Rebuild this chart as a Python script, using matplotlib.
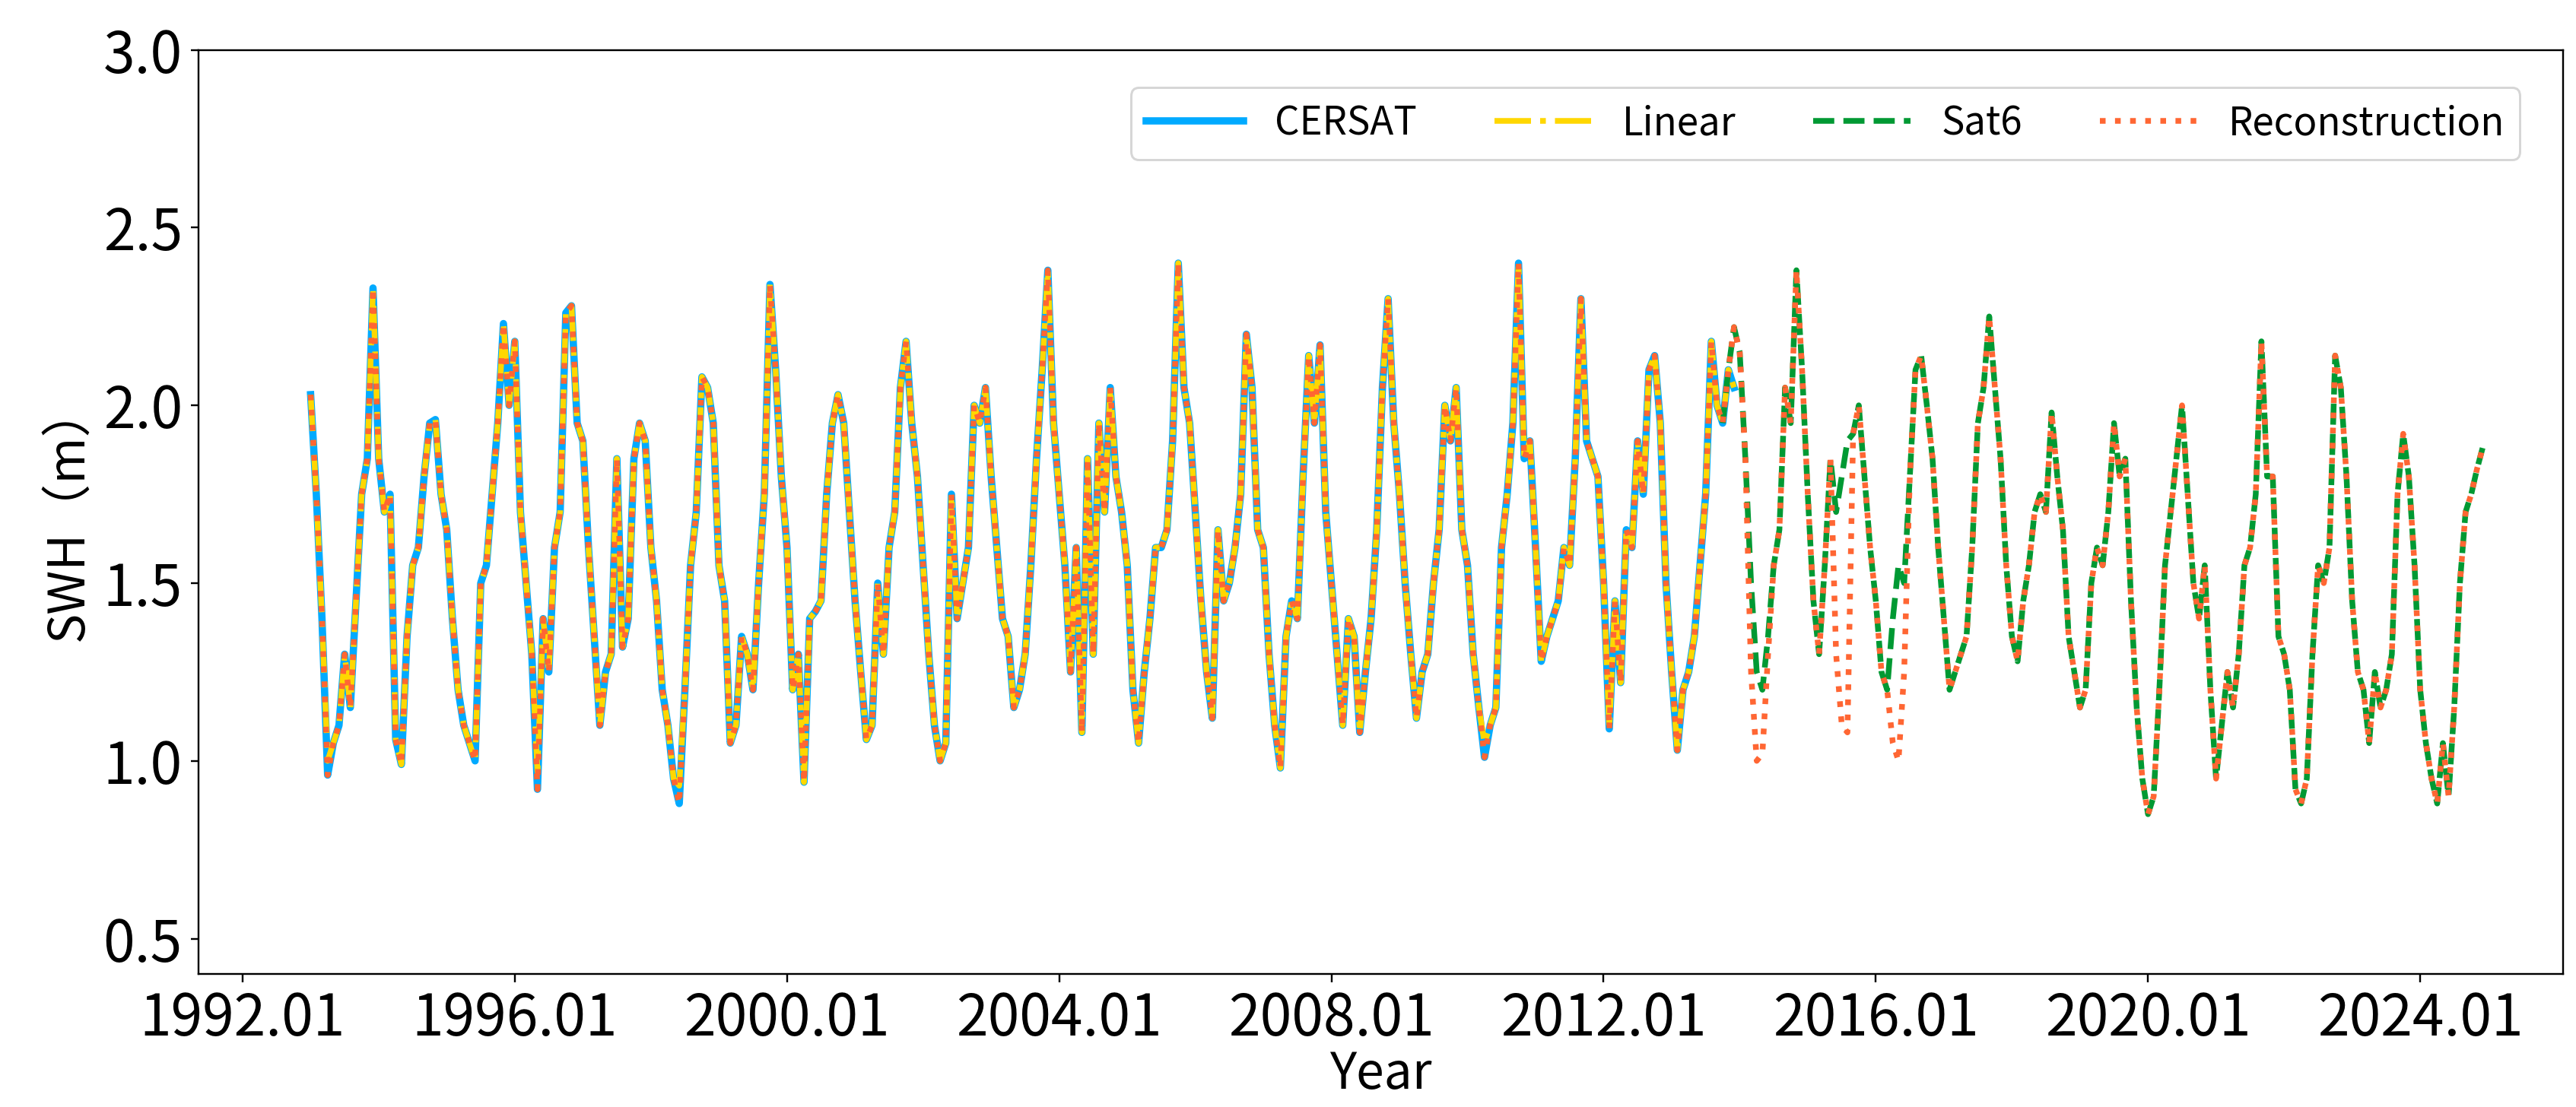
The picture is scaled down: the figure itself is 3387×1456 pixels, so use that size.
import numpy as np
import matplotlib
matplotlib.use("Agg")
import matplotlib.pyplot as plt

plt.rcParams['font.family'] = ['Noto Sans CJK SC', 'DejaVu Sans']

# CERSAT monthly SWH, 1993.01 - 2013.12
cersat = [
    2.03, 1.75, 1.40, 0.96, 1.05, 1.10, 1.30, 1.15, 1.45, 1.75, 1.85, 2.33,
    1.85, 1.70, 1.75, 1.06, 0.99, 1.35, 1.55, 1.60, 1.80, 1.95, 1.96, 1.75,
    1.65, 1.40, 1.20, 1.10, 1.05, 1.00, 1.50, 1.55, 1.75, 1.95, 2.23, 2.00,
    2.18, 1.70, 1.50, 1.30, 0.92, 1.40, 1.25, 1.60, 1.70, 2.26, 2.28, 1.95,
    1.90, 1.60, 1.35, 1.10, 1.25, 1.30, 1.85, 1.32, 1.40, 1.85, 1.95, 1.90,
    1.60, 1.45, 1.20, 1.10, 0.95, 0.88, 1.20, 1.55, 1.70, 2.08, 2.05, 1.95,
    1.55, 1.45, 1.05, 1.10, 1.35, 1.30, 1.20, 1.50, 1.75, 2.34, 2.10, 1.80,
    1.60, 1.20, 1.30, 0.94, 1.40, 1.42, 1.45, 1.75, 1.95, 2.03, 1.95, 1.70,
    1.45, 1.25, 1.06, 1.10, 1.50, 1.30, 1.60, 1.70, 2.05, 2.18, 1.95, 1.80,
    1.55, 1.30, 1.10, 1.00, 1.05, 1.75, 1.40, 1.50, 1.60, 2.00, 1.95, 2.05,
    1.80, 1.60, 1.40, 1.35, 1.15, 1.20, 1.30, 1.55, 1.85, 2.10, 2.38, 1.95,
    1.75, 1.55, 1.25, 1.60, 1.08, 1.85, 1.30, 1.95, 1.70, 2.05, 1.80, 1.70,
    1.55, 1.20, 1.05, 1.25, 1.40, 1.60, 1.60, 1.65, 1.90, 2.40, 2.05, 1.95,
    1.70, 1.45, 1.25, 1.12, 1.65, 1.45, 1.50, 1.60, 1.75, 2.20, 2.05, 1.65,
    1.60, 1.30, 1.10, 0.98, 1.35, 1.45, 1.40, 1.80, 2.14, 1.95, 2.17, 1.70,
    1.50, 1.30, 1.10, 1.40, 1.35, 1.08, 1.25, 1.40, 1.65, 2.05, 2.30, 1.95,
    1.75, 1.50, 1.30, 1.12, 1.25, 1.30, 1.50, 1.65, 2.00, 1.90, 2.05, 1.65,
    1.55, 1.30, 1.15, 1.01, 1.10, 1.15, 1.60, 1.75, 1.95, 2.40, 1.85, 1.90,
    1.60, 1.28, 1.35, 1.40, 1.45, 1.60, 1.55, 1.85, 2.30, 1.90, 1.85, 1.80,
    1.50, 1.09, 1.45, 1.22, 1.65, 1.60, 1.90, 1.75, 2.10, 2.14, 1.95, 1.50,
    1.25, 1.03, 1.20, 1.25, 1.35, 1.55, 1.75, 2.18, 2.00, 1.95, 2.10, 2.05,
]
# Linear fill: nearly identical, a few troughs read slightly higher
linear_edits = {3: 1.00, 40: 0.97, 65: 0.93, 207: 1.05}

# Sat6 monthly SWH, 2013.10 - 2024.12
sat6 = [
    1.95, 2.10, 2.22,
    2.15, 1.85, 1.50, 1.25, 1.20, 1.35, 1.55, 1.65, 2.05, 1.95, 2.38, 2.10,
    1.75, 1.45, 1.30, 1.55, 1.85, 1.70, 1.80, 1.90, 1.92, 2.00, 1.80, 1.60,
    1.45, 1.25, 1.20, 1.40, 1.55, 1.50, 1.80, 2.10, 2.14, 2.00, 1.85, 1.60,
    1.40, 1.20, 1.25, 1.30, 1.35, 1.60, 1.95, 2.05, 2.25, 2.05, 1.85, 1.55,
    1.35, 1.28, 1.45, 1.55, 1.70, 1.75, 1.70, 1.98, 1.80, 1.65, 1.35, 1.25,
    1.15, 1.20, 1.50, 1.60, 1.55, 1.70, 1.95, 1.80, 1.85, 1.45, 1.15, 0.95,
    0.85, 0.90, 1.20, 1.55, 1.70, 1.85, 2.00, 1.75, 1.50, 1.40, 1.55, 1.20,
    0.95, 1.10, 1.25, 1.15, 1.30, 1.55, 1.60, 1.75, 2.18, 1.80, 1.80, 1.35,
    1.30, 1.20, 0.92, 0.88, 0.95, 1.30, 1.55, 1.50, 1.60, 2.14, 2.05, 1.80,
    1.45, 1.25, 1.20, 1.05, 1.25, 1.15, 1.20, 1.30, 1.75, 1.92, 1.80, 1.55,
    1.20, 1.05, 0.95, 0.88, 1.05, 0.90, 1.15, 1.50, 1.70, 1.75, 1.82, 1.88,
]
# Reconstruction deviates from Sat6 in a few months (index in sat6 list)
recon_edits = {5: 1.25, 6: 1.00, 7: 1.02, 8: 1.30, 20: 1.30, 21: 1.10, 22: 1.08,
               30: 1.05, 31: 1.00, 32: 1.25}

t_cersat = 1993 + np.arange(len(cersat)) / 12
t_sat6 = 2013 + 9 / 12 + np.arange(len(sat6)) / 12

linear = list(cersat)
for i, v in linear_edits.items():
    linear[i] = v
recon_tail = list(sat6)
for i, v in recon_edits.items():
    recon_tail[i] = v
t_recon = np.concatenate([t_cersat[:-3], t_sat6])
recon = cersat[:-3] + recon_tail

fig, ax = plt.subplots(figsize=(3387 / 216, 1456 / 216), dpi=216)
fig.subplots_adjust(left=0.077, right=0.995, top=0.955, bottom=0.12)

ax.plot(t_cersat, cersat, color="#00AAFF", lw=3.2, label="CERSAT")
ax.plot(t_cersat, linear, color="#FFD700", lw=2.5, ls="-.", label="Linear")
ax.plot(t_sat6, sat6, color="#009933", lw=2.5, ls="--", label="Sat6")
ax.plot(t_recon, recon, color="#FF6633", lw=2.5, ls=":", label="Reconstruction")

years = np.arange(1992, 2025, 4)
ax.set_xticks(years)
ax.set_xticklabels([f"{y}.01" for y in years])
ax.set_xlim(1991.35, 2026.1)
ax.set_ylim(0.4, 3.0)
ax.set_yticks([0.5, 1.0, 1.5, 2.0, 2.5, 3.0])
ax.set_yticklabels(["0.5", "1.0", "1.5", "2.0", "2.5", "3.0"])
ax.tick_params(labelsize=25)
ax.set_xlabel("Year", fontsize=22, labelpad=0)
ax.set_ylabel("SWH（m）", fontsize=22)
ax.legend(loc="upper right", ncol=4, fontsize=17, handlelength=2.5,
          columnspacing=2.0, bbox_to_anchor=(0.99, 0.98))

fig.savefig("out.png")
plt.close(fig)
